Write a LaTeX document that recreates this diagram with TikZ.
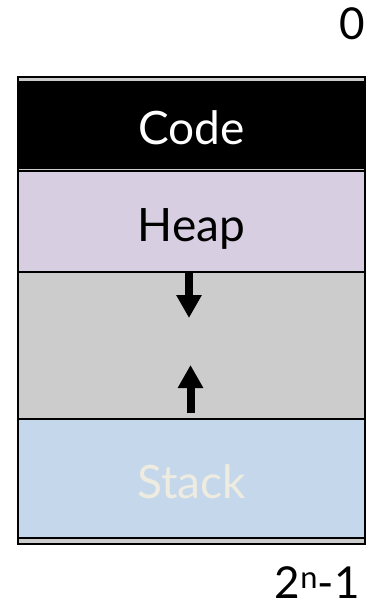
\documentclass[tikz,border=0pt]{standalone}
\usepackage{fontspec}
\setmainfont{Lato}
\usetikzlibrary{arrows.meta,positioning}
\definecolor{heaplilac}{RGB}{216,206,226}
\definecolor{gapgray}{RGB}{204,204,204}
\definecolor{stackblue}{RGB}{197,216,235}
\definecolor{stackink}{RGB}{238,235,224}

\begin{document}
\begin{tikzpicture}[
  row/.style={
    draw=black,
    line width=2pt,
    minimum width=347pt,
    inner sep=0pt,
    outer sep=0pt
  },
  bar/.style={row,fill=gapgray},
  seg/.style={
    row,
    text height=39pt,
    text depth=0pt,
    font=\fontsize{46}{50}\selectfont
  },
  growarrow/.style={line width=8pt,-{Triangle[length=23pt,width=24pt]}},
  addr/.style={font=\fontsize{44}{48}\selectfont,inner sep=0pt}
]
\useasboundingbox (0,0) rectangle (366pt,-609pt);
% memory rows, top to bottom
\node[bar,minimum height=5pt,anchor=north] (topbar) at (191.5pt,-77pt) {};
\node[seg,fill=black,text=white,minimum height=86pt,below=0pt of topbar]
  (code) {Code};
\node[bar,minimum height=3.5pt,below=0pt of code] (midbar) {};
\node[seg,fill=heaplilac,minimum height=100.5pt,below=0pt of midbar]
  (heap) {Heap};
\node[row,fill=gapgray,minimum height=147pt,below=0pt of heap] (gap) {};
\node[seg,fill=stackblue,text=stackink,minimum height=119pt,below=0pt of gap]
  (stack) {Stack};
\node[bar,minimum height=6pt,below=0pt of stack] (botbar) {};
% growth arrows
\coordinate (dtop) at ([xshift=-2.5pt]heap.south);
\coordinate[below=46pt of dtop] (dtip);
\coordinate (ubase) at ([xshift=-1pt,yshift=6pt]stack.north);
\coordinate[above=48pt of ubase] (utip);
\draw[growarrow] (dtop) -- (dtip);
\draw[growarrow] (ubase) -- (utip);
% addresses
\node[addr,anchor=base] (lo) at (352pt,-40pt) {0};
\node[addr,anchor=base east] (hi) at (360pt,-598pt) {2\textsuperscript{n}-1};
\end{tikzpicture}
\end{document}
